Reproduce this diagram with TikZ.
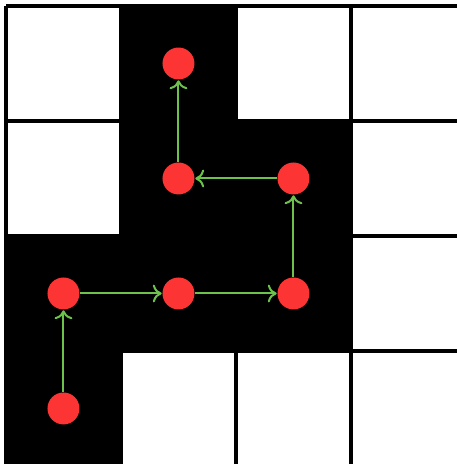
\documentclass[tikz,border=0pt]{standalone}
\usetikzlibrary{arrows.meta}
\definecolor{dotred}{RGB}{252,52,52}
\definecolor{pathgreen}{RGB}{108,194,74}
\begin{document}
\begin{tikzpicture}[x=1cm,y=-1cm,
  gridline/.style={line width=0.85pt,black},
  dot/.style={circle,fill=dotred,inner sep=0pt,minimum size=0.278cm},
  move/.style={-{To[length=2.2pt,width=4.4pt]},line width=0.5pt,pathgreen}]
\fill[white] (-0.052,-0.052) rectangle (3.922,3.983);
\useasboundingbox (-0.052,-0.052) rectangle (3.922,3.983);

% cells of the path
\foreach \c/\r in {1/0,1/1,2/1,0/2,1/2,2/2,0/3}
  \fill[black] (\c,\r) rectangle ++(1,1);
\draw[gridline] (0,0) grid (4,4);

\node[dot] (n1) at (0.5,3.5) {};
\node[dot] (n2) at (0.5,2.5) {};
\node[dot] (n3) at (1.5,2.5) {};
\node[dot] (n4) at (2.5,2.5) {};
\node[dot] (n5) at (2.5,1.5) {};
\node[dot] (n6) at (1.5,1.5) {};
\node[dot] (n7) at (1.5,0.5) {};

\draw[move] (n1) -- (n2);
\draw[move] (n2) -- (n3);
\draw[move] (n3) -- (n4);
\draw[move] (n4) -- (n5);
\draw[move] (n5) -- (n6);
\draw[move] (n6) -- (n7);
\end{tikzpicture}
\end{document}
